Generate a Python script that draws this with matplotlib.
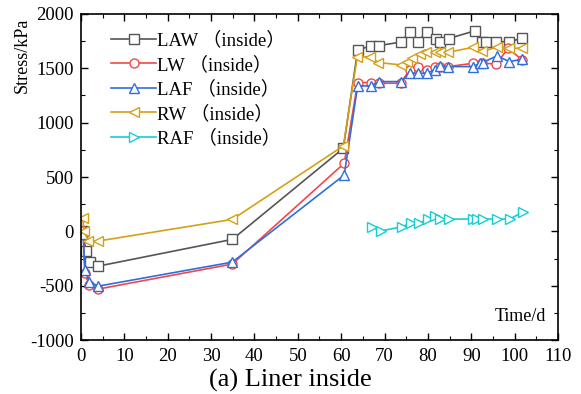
import matplotlib
matplotlib.use('Agg')
import matplotlib.pyplot as plt
from matplotlib.ticker import MultipleLocator

plt.rcParams['font.family'] = ['Liberation Serif', 'Noto Sans CJK SC']
plt.rcParams['axes.unicode_minus'] = False

# Data (day, stress kPa)
law_t = [0.5, 1.1, 2.0, 4.0, 34.9, 60.5, 63.8, 66.8, 68.8, 73.7, 75.9, 77.7, 79.7, 81.8, 82.8, 84.8,
         90.8, 92.5, 93.5, 95.7, 98.7, 101.8]
law_v = [0, -180, -280, -320, -74, 764, 1668, 1706, 1710, 1741, 1838, 1741, 1838, 1771, 1741, 1774,
         1845, 1741, 1741, 1745, 1745, 1777]

lw_t = [0.5, 0.9, 1.9, 4.0, 34.9, 60.7, 63.8, 66.8, 68.8, 73.7, 75.8, 77.7, 79.7, 81.6, 82.8, 84.7,
        90.5, 92.4, 95.8, 98.5, 101.7]
lw_v = [0, -387, -495, -531, -301, 626, 1369, 1369, 1363, 1363, 1486, 1516, 1486, 1516, 1516, 1516,
        1547, 1547, 1540, 1685, 1578]

laf_t = [0.5, 0.9, 1.9, 4.0, 34.9, 60.7, 63.8, 66.8, 68.8, 73.7, 75.9, 77.7, 79.7, 81.6, 82.8, 84.7,
         90.5, 91.9, 92.6, 95.9, 98.8, 101.8]
laf_v = [-20, -356, -464, -504, -283, 518, 1338, 1338, 1378, 1378, 1455, 1455, 1455, 1486, 1522, 1516,
         1516, 1547, 1553, 1614, 1562, 1584]

rw_t = [0.4, 0.7, 1.7, 4.0, 34.9, 60.5, 63.7, 66.6, 68.6, 73.7, 75.1, 76.3, 78.2, 79.6, 81.6, 82.8,
        84.7, 90.5, 92.4, 95.9, 98.8, 101.8]
rw_v = [120, 0, -85, -89, 110, 786, 1602, 1608, 1553, 1532, 1562, 1593, 1633, 1654, 1654, 1654,
        1648, 1694, 1655, 1694, 1685, 1685]

raf_t = [67.0, 69.1, 74.0, 76.0, 78.0, 80.1, 81.6, 82.8, 84.9, 90.5, 91.3, 92.8, 95.9, 98.9, 102.0]
raf_v = [42, 3, 42, 74, 74, 113, 144, 113, 113, 113, 113, 113, 113, 113, 181]

series = [
    ('LAW （inside）', law_t, law_v, '#555555', 's'),
    ('LW （inside）', lw_t, lw_v, '#f2474a', 'o'),
    ('LAF （inside）', laf_t, laf_v, '#2f6fdc', '^'),
    ('RW （inside）', rw_t, rw_v, '#d4a017', '<'),
    ('RAF （inside）', raf_t, raf_v, '#18cdd3', '>'),
]

fig = plt.figure(figsize=(5.81, 3.94), dpi=100)
ax = fig.add_axes([0.1394, 0.137, 0.821, 0.8275])

for label, t, v, c, m in series:
    ax.plot(t, v, color=c, marker=m, markersize=6.5, markerfacecolor='white',
            markeredgecolor=c, markeredgewidth=1.0, linewidth=1.2, label=label)

ax.set_xlim(0, 110)
ax.set_ylim(-1000, 2000)
ax.xaxis.set_major_locator(MultipleLocator(10))
ax.xaxis.set_minor_locator(MultipleLocator(5))
ax.yaxis.set_major_locator(MultipleLocator(500))
ax.yaxis.set_minor_locator(MultipleLocator(250))
ax.tick_params(which='both', direction='in', top=True, right=True, labelsize=13.5)
ax.tick_params(which='major', length=5, width=1)
ax.tick_params(which='minor', length=3, width=0.8)
ax.tick_params(axis='y', pad=5)
ax.tick_params(axis='x', pad=6)
for sp in ax.spines.values():
    sp.set_linewidth(1.2)

ax.set_ylabel('Stress/kPa', fontsize=13)
ax.yaxis.set_label_coords(-0.105, 0.874)
ax.text(0.975, 0.045, 'Time/d', transform=ax.transAxes, ha='right', va='bottom', fontsize=13)

leg = ax.legend(loc='upper left', bbox_to_anchor=(0.04, 0.98), frameon=False, fontsize=13.5,
                handlelength=2.4, handletextpad=0.05, labelspacing=0.35, borderaxespad=0.2)

fig.text(0.5, 0.005, '(a) Liner inside', ha='center', va='bottom', fontsize=19)

fig.savefig('out.png', dpi=100)
